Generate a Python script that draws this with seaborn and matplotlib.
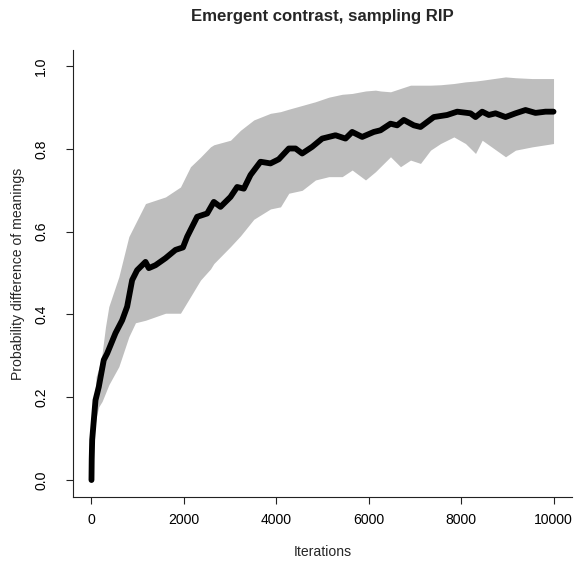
import matplotlib
matplotlib.use("Agg")
import matplotlib.pyplot as plt
import seaborn as sns
import pandas as pd

# Mean curve
mean_iter = [0, 5, 15, 87, 158, 266, 340, 520, 664, 772, 880, 988, 1169, 1241, 1385,
             1602, 1818, 1980, 2071, 2287, 2504, 2648, 2792, 3009, 3153, 3297, 3442,
             3658, 3874, 4054, 4271, 4416, 4560, 4776, 4993, 5281, 5498, 5642, 5859,
             6110, 6255, 6472, 6616, 6760, 6977, 7121, 7409, 7698, 7915, 8203, 8312,
             8456, 8600, 8745, 8961, 9177, 9394, 9610, 9827, 10000]
mean_val = [0.0, 0.05, 0.097, 0.193, 0.225, 0.29, 0.306, 0.355, 0.386, 0.419, 0.483,
            0.507, 0.527, 0.512, 0.519, 0.536, 0.556, 0.562, 0.588, 0.636, 0.644,
            0.672, 0.66, 0.684, 0.708, 0.704, 0.737, 0.769, 0.765, 0.775, 0.801,
            0.801, 0.789, 0.805, 0.825, 0.833, 0.825, 0.841, 0.829, 0.841, 0.845,
            0.861, 0.857, 0.87, 0.857, 0.853, 0.877, 0.882, 0.89, 0.886, 0.877,
            0.89, 0.882, 0.886, 0.877, 0.886, 0.894, 0.887, 0.89, 0.89]

# Band (lower / upper)
band_iter = [0, 20, 100, 158, 230, 303, 375, 592, 808, 952, 1169, 1602, 1926, 2143,
             2359, 2576, 2648, 3009, 3225, 3513, 3874, 4091, 4271, 4560, 4848, 5137,
             5426, 5642, 5931, 6147, 6255, 6472, 6688, 6905, 7121, 7338, 7554, 7843,
             8095, 8312, 8456, 8961, 9177, 9539, 10000]
band_low = [0.0, 0.08, 0.15, 0.177, 0.19, 0.21, 0.23, 0.274, 0.346, 0.38, 0.386,
            0.403, 0.403, 0.443, 0.483, 0.51, 0.523, 0.564, 0.59, 0.63, 0.655, 0.66,
            0.693, 0.70, 0.725, 0.733, 0.733, 0.749, 0.725, 0.745, 0.757, 0.781,
            0.757, 0.773, 0.765, 0.797, 0.813, 0.829, 0.813, 0.789, 0.821, 0.781,
            0.797, 0.805, 0.813]
band_high = [0.0, 0.12, 0.25, 0.27, 0.306, 0.37, 0.419, 0.491, 0.588, 0.62, 0.668,
             0.684, 0.708, 0.757, 0.78, 0.805, 0.81, 0.821, 0.845, 0.87, 0.886, 0.89,
             0.896, 0.905, 0.914, 0.925, 0.932, 0.934, 0.94, 0.942, 0.94, 0.938,
             0.946, 0.954, 0.954, 0.954, 0.955, 0.958, 0.962, 0.964, 0.966, 0.974,
             0.972, 0.97, 0.97]

x_ticks = [0, 2000, 4000, 6000, 8000, 10000]
y_ticks = [0.0, 0.2, 0.4, 0.6, 0.8, 1.0]

sns.set_style("ticks")
plt.rcParams['font.family'] = ['Liberation Sans', 'DejaVu Sans']

W, H = 575, 563
fig = plt.figure(figsize=(W / 100, H / 100), dpi=100)
L, R, T, B = 73, 572, 50, 497
ax = fig.add_axes([L / W, 1 - B / H, (R - L) / W, (B - T) / H])

ax.fill_between(band_iter, band_low, band_high, color="#BEBEBE", linewidth=0)
df = pd.DataFrame({"Iterations": mean_iter, "value": mean_val})
sns.lineplot(data=df, x="Iterations", y="value", ax=ax, color="black",
             linewidth=4.2, solid_capstyle="round", solid_joinstyle="round")

ax.set_xlim(-400, 10400)
ax.set_ylim(-0.041, 1.039)
ax.set_xticks(x_ticks)
ax.set_xticklabels([str(t) for t in x_ticks])
ax.set_yticks(y_ticks)
ax.set_yticklabels([f"{t:.1f}" for t in y_ticks], rotation=90, va="center")

for s in ["top", "right"]:
    ax.spines[s].set_visible(False)
for s in ["left", "bottom"]:
    ax.spines[s].set_linewidth(0.8)
    ax.spines[s].set_color("#222222")
ax.tick_params(direction="out", length=5, width=0.8, colors="#222222",
               labelsize=10.1, labelcolor="black")
ax.tick_params(axis="x", pad=6.5)
ax.tick_params(axis="y", pad=13)

ax.set_xlabel("Iterations", fontsize=10.1)
ax.set_ylabel("Probability difference of meanings", fontsize=10.1)
ax.xaxis.set_label_coords(0.5, (B - 545) / (B - T))
ax.yaxis.set_label_coords((25 - L) / (R - L), 0.5)

fig.text((L + R) / 2 / W, 1 - 16 / H, "Emergent contrast, sampling RIP",
         ha="center", va="center", fontsize=12.1, fontweight="bold")

fig.savefig("out.png", dpi=100)
